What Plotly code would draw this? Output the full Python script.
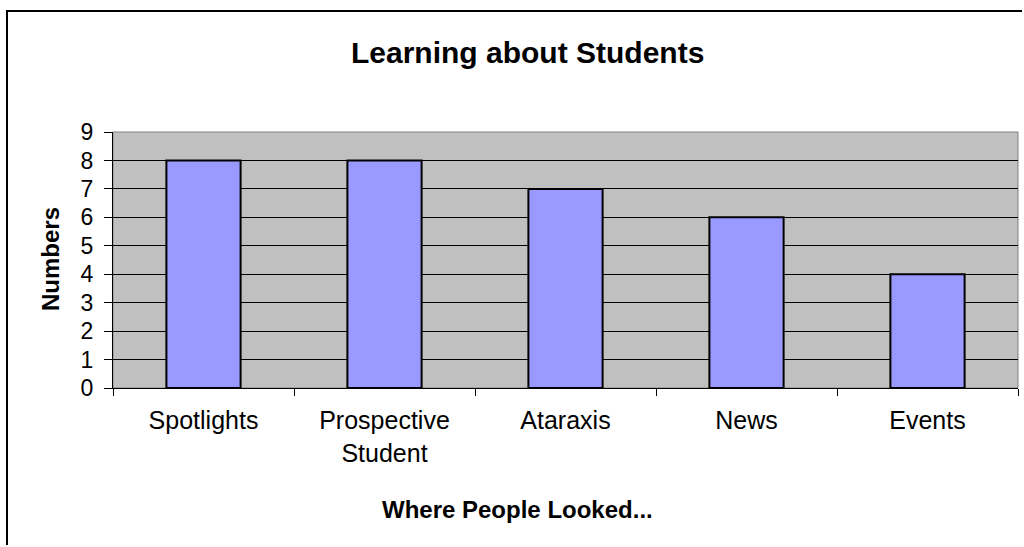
import plotly.graph_objects as go

categories = ["Spotlights", "Prospective<br>Student", "Ataraxis", "News", "Events"]
values = [8, 8, 7, 6, 4]
y_ticks = list(range(0, 10))

W, H = 1024, 547
L, R, T, B = 113, 1018, 132, 388  # plot area pixel bounds

def px(x):
    return (x - L) / (R - L)

def py(y):
    return (B - y) / (B - T)

FONT = "Liberation Sans, Arial, sans-serif"

fig = go.Figure(go.Bar(
    x=categories, y=values, width=0.41,
    marker=dict(color="#9999FF", line=dict(color="black", width=2)),
))

fig.update_layout(
    width=W, height=H,
    margin=dict(l=L, r=W - R, t=T, b=H - B, pad=0),
    paper_bgcolor="white", plot_bgcolor="#C0C0C0",
    showlegend=False,
    font=dict(family=FONT, color="black"),
)
fig.update_xaxes(
    showgrid=False, showline=True, linecolor="black", linewidth=1,
    ticks="outside", tickson="boundaries", ticklen=7, tickcolor="black",
    tickfont=dict(size=25, family=FONT), ticklabelstandoff=10,
)
fig.update_yaxes(
    range=[0, 9], tickvals=y_ticks, showgrid=True, gridcolor="black", gridwidth=1,
    showline=True, linecolor="black", linewidth=1, zeroline=False,
    ticks="outside", ticklen=8, tickcolor="black",
    tickfont=dict(size=23, family=FONT), ticklabelstandoff=6,
)

shapes = [
    # plot area border (top/right gray)
    dict(type="rect", xref="paper", yref="paper", x0=0, x1=1, y0=0, y1=1,
         line=dict(color="#808080", width=1), layer="below"),
    # outer chart frame: only top and left edges are inside the image
    dict(type="path", xref="paper", yref="paper",
         path=f"M {px(7)},{py(545)} L {px(7)},{py(11)} L {px(1022)},{py(11)}",
         line=dict(color="black", width=2)),
]
fig.update_layout(shapes=shapes)

fig.add_annotation(text="<b>Learning about Students</b>", xref="paper", yref="paper",
                   x=px(527), y=py(52), showarrow=False, xanchor="center", yanchor="middle",
                   font=dict(size=30, family=FONT))
fig.add_annotation(text="<b>Where People Looked...</b>", xref="paper", yref="paper",
                   x=px(517), y=py(509), showarrow=False, xanchor="center", yanchor="middle",
                   font=dict(size=24, family=FONT))
fig.add_annotation(text="<b>Numbers</b>", xref="paper", yref="paper",
                   x=px(50), y=py(259), showarrow=False, xanchor="center", yanchor="middle",
                   textangle=-90, font=dict(size=24, family=FONT))

fig.write_html("out.html")
